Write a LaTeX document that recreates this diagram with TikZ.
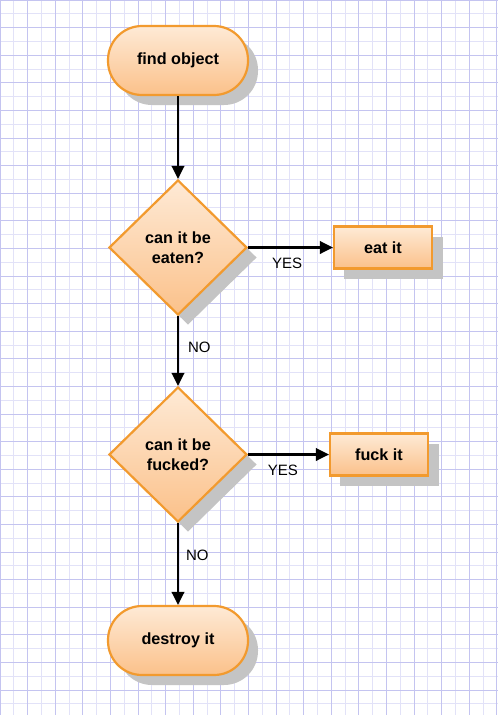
\documentclass[tikz,border=0pt]{standalone}
\usepackage{fontspec}
\setmainfont{Liberation Sans}
\usetikzlibrary{shapes.geometric,arrows.meta,shadows}
\definecolor{gridmajor}{HTML}{C4C4F0}
\definecolor{gridminor}{HTML}{E2E2F8}
\definecolor{boxborder}{HTML}{F29A2E}
\definecolor{boxtop}{HTML}{FEEAD6}
\definecolor{boxbottom}{HTML}{FBC18A}
\definecolor{shadowgray}{HTML}{C4C4C4}
\tikzset{
  base/.style={draw=boxborder, line width=2.2pt, top color=boxtop, bottom color=boxbottom,
    font=\fontsize{16.2}{19.5}\selectfont\bfseries, text=black, align=center, inner sep=0pt,
    drop shadow={shadow xshift=10pt, shadow yshift=-10pt, fill=shadowgray, opacity=1}},
  terminal/.style={base, rectangle, rounded corners=34pt, minimum width=140pt, minimum height=69pt},
  decision/.style={base, diamond, minimum width=138pt, minimum height=135pt},
  action/.style={base, rectangle, minimum width=98pt, minimum height=42pt,
    drop shadow={shadow xshift=11pt, shadow yshift=-10pt, fill=shadowgray, opacity=1}},
  flow/.style={line width=2.2pt, black, -{Triangle[length=13pt,width=12.5pt]}},
  lbl/.style={font=\fontsize{15}{18}\selectfont, text=black, inner sep=0pt}
}
\begin{document}
\begin{tikzpicture}[x=1pt,y=-1pt]
\useasboundingbox (0,0) rectangle (498,715);
\fill[white] (0,0) rectangle (498,715);
\foreach \i in {1,3,...,37} {
  \draw[gridminor, line width=1pt] (\i*13.8,0) -- (\i*13.8,715);
}
\foreach \i in {1,3,...,53} {
  \draw[gridminor, line width=1pt] (0,\i*13.8) -- (498,\i*13.8);
}
\foreach \i in {0,...,18} {
  \draw[gridmajor, line width=1pt] (\i*27.6,0) -- (\i*27.6,715);
}
\foreach \i in {0,...,26} {
  \draw[gridmajor, line width=1pt] (0,\i*27.6) -- (498,\i*27.6);
}

\node[terminal] (find) at (178,60.5) {find object};
\node[decision] (eaten) at (178,247.5) {can it be\\eaten?};
\node[action] (eat) at (383,247.5) {eat it};
\node[decision] (fucked) at (178,454.5) {can it be\\fucked?};
\node[action] (fuck) at (379,454.5) {fuck it};
\node[terminal] (destroy) at (178,640.5) {destroy it};

\draw[flow] (find) -- (eaten);
\draw[flow] (eaten.east) -- (eat.west) node[lbl, pos=0.46, below=9pt] (yes1) {YES};
\draw[flow] (eaten) -- (fucked) node[lbl, pos=0.45, right=9pt] (no1) {NO};
\draw[flow] (fucked.east) -- (fuck.west) node[lbl, pos=0.43, below=9pt] (yes2) {YES};
\draw[flow] (fucked) -- (destroy) node[lbl, pos=0.4, right=7pt] (no2) {NO};
\end{tikzpicture}
\end{document}
